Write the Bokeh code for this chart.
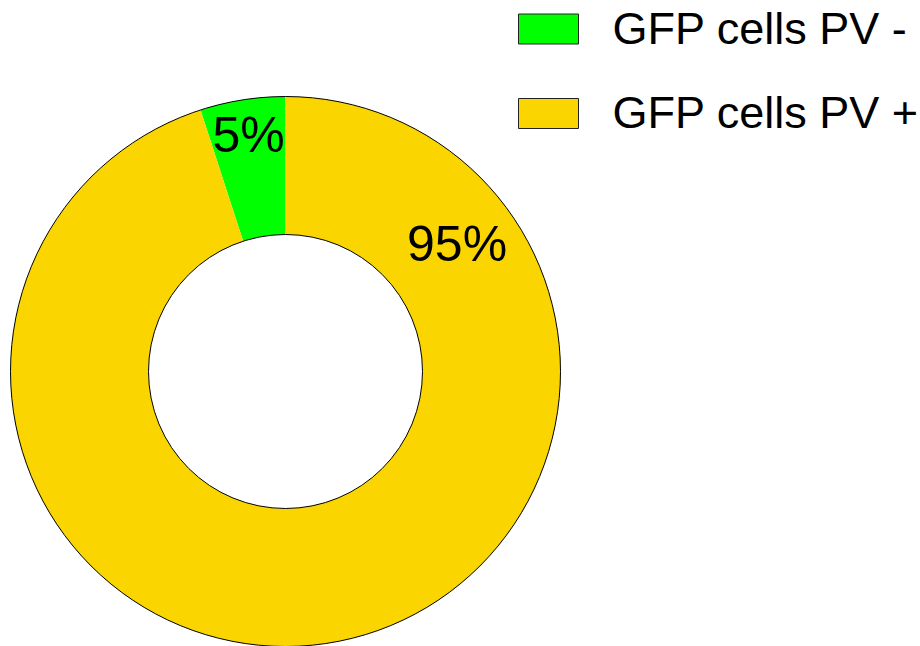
import math
from bokeh.plotting import figure
from bokeh.models import Range1d
from bokeh.core.properties import value
from bokeh.embed import file_html
from bokeh.resources import INLINE

# data
categories = ["GFP cells PV -", "GFP cells PV +"]
percents = [5, 95]
labels = ["5%", "95%"]
colors = ["#00FF00", "#FAD500"]

# style / layout (pixel-like units; y = 646 - page_y)
W, H = 920, 646
cx, cy = 285, 646 - 371
R_out, R_in = 275, 137
label_angle_deg = [98.9, 36.7]
label_r = [239, 214]

p = figure(width=W, height=H, output_backend="svg", toolbar_location=None,
           x_range=Range1d(0, W), y_range=Range1d(0, H),
           min_border=0)
p.axis.visible = False
p.grid.visible = False
p.outline_line_color = None
p.background_fill_color = "white"

total = sum(percents)
start = math.pi / 2
starts, ends = [], []
for v in percents:
    e = start + 2 * math.pi * v / total
    starts.append(start)
    ends.append(e)
    start = e

p.annular_wedge(x=[cx] * len(percents), y=[cy] * len(percents),
                inner_radius=R_in, outer_radius=R_out,
                start_angle=starts, end_angle=ends,
                fill_color=colors, line_color=None)
p.circle(x=[cx, cx], y=[cy, cy], radius=[R_out, R_in],
         fill_color=None, line_color="black", line_width=1)

lx = [cx + r * math.cos(math.radians(a)) for a, r in zip(label_angle_deg, label_r)]
ly = [cy + r * math.sin(math.radians(a)) for a, r in zip(label_angle_deg, label_r)]
p.text(x=lx, y=ly, text=labels, text_align="center", text_baseline="alphabetic",
       text_font=value("Liberation Sans"), text_font_size="50px", text_color="black")

# legend
box_x = 548
box_y = [646 - 28.5, 646 - 113]
p.rect(x=[box_x] * 2, y=box_y, width=60, height=30, fill_color=colors,
       line_color="#222222", line_width=1)
p.text(x=[612] * 2, y=[646 - 28, 646 - 112], text=categories,
       text_align="left", text_baseline="alphabetic",
       text_font=value("Liberation Sans"), text_font_size="45px", text_color="black")

open("out.html", "w").write(file_html(p, INLINE))
